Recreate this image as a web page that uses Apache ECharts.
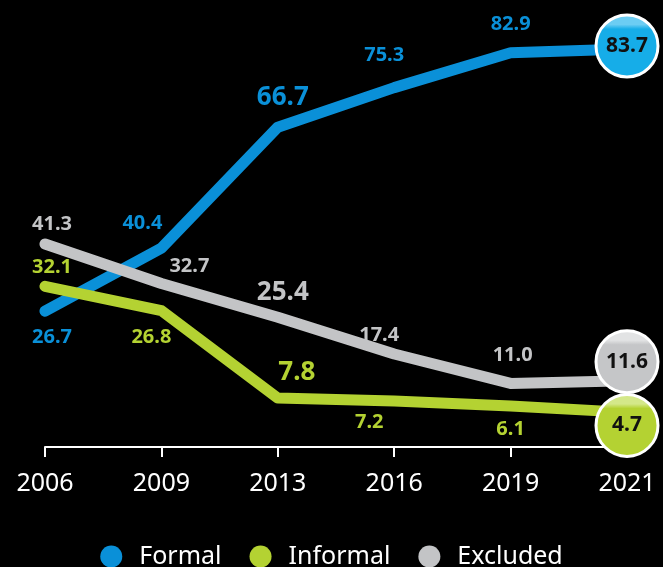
<!DOCTYPE html>
<html>
<head>
<meta charset="utf-8">
<script src="https://cdn.jsdelivr.net/npm/echarts@6/dist/echarts.min.js"></script>
<style>
  html, body { margin: 0; padding: 0; background: #000; }
  #chart { width: 663px; height: 567px; }
</style>
</head>
<body>
<div id="chart"></div>
<script>
// 数据
var years = ["2006", "2009", "2013", "2016", "2019", "2021"];
var formal = [26.7, 40.4, 66.7, 75.3, 82.9, 83.7];
var informal = [32.1, 26.8, 7.8, 7.2, 6.1, 4.7];
var excluded = [41.3, 32.7, 25.4, 17.4, 11.0, 11.6];

// 标签偏移 (相对数据点)
var formalOffset = [[7, 26], [-19, -25], [5, -30], [-10, -32], [0, -28]];
var informalOffset = [[7, -19], [-10, 27], [19, -26], [-25, 21], [0, 23]];
var excludedOffset = [[7, -20], [28, -17], [5, -25], [-15, -19], [2, -28]];

var colors = {
    formal: '#0a90d8',
    informal: '#b4d232',
    excluded: '#c3c4c6'
};

// 球形渐变 (顶部高光)
function ball(base, light) {
    return {
        type: 'linear',
        x: 0, y: 0, x2: 0, y2: 1,
        colorStops: [
            { offset: 0, color: light },
            { offset: 0.17, color: light },
            { offset: 0.24, color: base },
            { offset: 1, color: base }
        ]
    };
}

function buildData(values, offsets, color, ballColor, light, endOffset) {
    return values.map(function (v, i) {
        if (i === values.length - 1) {
            return {
                value: v,
                symbol: 'circle',
                symbolSize: 62,
                symbolOffset: [0, endOffset],
                itemStyle: {
                    color: ball(ballColor, light),
                    borderColor: '#fff',
                    borderWidth: 3
                },
                label: {
                    show: true,
                    position: 'inside',
                    color: '#111',
                    fontSize: 21,
                    fontWeight: 'bold'
                }
            };
        }
        return {
            value: v,
            label: {
                show: true,
                position: 'inside',
                offset: offsets[i],
                color: color,
                fontSize: i === 2 ? 26 : 20,
                fontWeight: 'bold'
            }
        };
    });
}

function lineSeries(name, values, offsets, color, ballColor, light, endOffset) {
    return {
        name: name,
        type: 'line',
        symbol: 'circle',
        symbolSize: 1,
        itemStyle: { color: color },
        lineStyle: { color: color, width: 11, cap: 'round', join: 'round' },
        label: {
            fontFamily: 'Noto Sans',
            formatter: function (p) { return p.value.toFixed(1); }
        },
        data: buildData(values, offsets, color, ballColor, light, endOffset),
        z: 2
    };
}

var myCharts = echarts.init(document.getElementById('chart'));

var option = {
    backgroundColor: '#000',
    animation: false,
    textStyle: { fontFamily: 'Noto Sans' },
    grid: {
        left: 45,
        right: 36,
        top: 20,
        bottom: 133
    },
    legend: {
        top: 539,
        left: 'center',
        itemWidth: 22,
        itemHeight: 22,
        itemGap: 28,
        icon: 'circle',
        textStyle: {
            color: '#fff',
            fontSize: 25,
            padding: [0, 0, 0, 12]
        },
        data: ['Formal', 'Informal', 'Excluded']
    },
    xAxis: {
        type: 'category',
        data: years,
        boundaryGap: false,
        offset: 13,
        axisLine: { onZero: false, lineStyle: { color: '#fff', width: 2 } },
        axisTick: {
            show: true,
            inside: false,
            alignWithLabel: true,
            length: 10,
            lineStyle: { color: '#fff', width: 2 }
        },
        axisLabel: {
            color: '#fff',
            fontSize: 25,
            margin: 24
        }
    },
    yAxis: {
        type: 'value',
        min: 0,
        max: 90,
        show: false
    },
    series: [
        lineSeries('Formal', formal, formalOffset, colors.formal, '#16ade8', '#6ccdf3', -3),
        lineSeries('Informal', informal, informalOffset, colors.informal, '#b4d232', '#d4e889', 13),
        lineSeries('Excluded', excluded, excludedOffset, colors.excluded, '#c5c6c8', '#e2e3e4', -19)
    ]
};

myCharts.setOption(option);
</script>
</body>
</html>
